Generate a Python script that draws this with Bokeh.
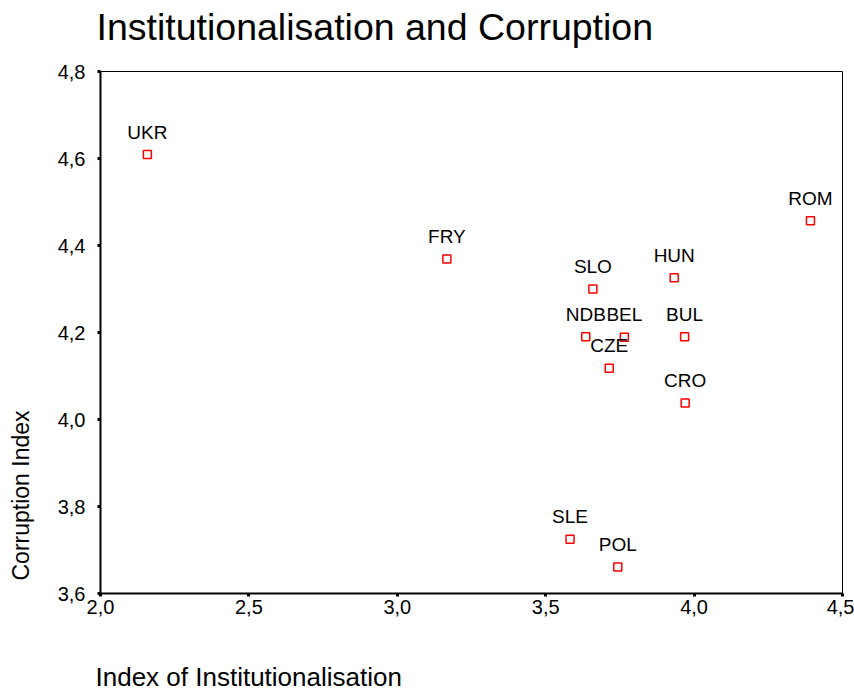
from bokeh.plotting import figure
from bokeh.models import ColumnDataSource, LabelSet, Title, Range1d, FixedTicker, CustomJSTickFormatter
from bokeh.core.properties import value
from bokeh.embed import file_html
from bokeh.resources import INLINE

countries = ["UKR", "FRY", "SLO", "HUN", "ROM", "NDB", "BEL", "BUL", "CZE", "CRO", "SLE", "POL"]
institutionalisation = [2.158, 3.167, 3.659, 3.933, 4.392, 3.635, 3.765, 3.968, 3.714, 3.970, 3.582, 3.743]
corruption = [4.609, 4.369, 4.300, 4.326, 4.457, 4.190, 4.189, 4.190, 4.118, 4.038, 3.725, 3.661]

x_ticks = [2.0, 2.5, 3.0, 3.5, 4.0, 4.5]
y_ticks = [3.6, 3.8, 4.0, 4.2, 4.4, 4.6, 4.8]

title_text = "Institutionalisation and Corruption"
x_label_text = "Index of Institutionalisation"
y_label_text = "Corruption Index"

FONT = "Liberation Sans"

p = figure(width=854, height=692, output_backend="svg", toolbar_location=None,
           x_range=Range1d(2.0, 4.5), y_range=Range1d(3.6, 4.8),
           min_border_left=100, min_border_right=12, min_border_top=71, min_border_bottom=99)

p.background_fill_color = "white"
p.border_fill_color = "white"
p.outline_line_color = "black"
p.outline_line_width = 1
p.xgrid.grid_line_color = None
p.ygrid.grid_line_color = None

fmt = CustomJSTickFormatter(code="return tick.toFixed(1).replace('.', ',');")

for ax, ticks in ((p.xaxis[0], x_ticks), (p.yaxis[0], y_ticks)):
    ax.ticker = FixedTicker(ticks=ticks)
    ax.formatter = fmt
    ax.axis_line_color = "black"
    ax.axis_line_width = 2
    ax.major_tick_in = 0
    ax.major_tick_out = 3
    ax.major_tick_line_width = 3
    ax.major_tick_line_color = "black"
    ax.minor_tick_line_color = None
    ax.major_label_text_font = FONT
    ax.major_label_text_font_size = "20px"
    ax.major_label_text_color = "black"

p.xaxis.major_label_standoff = 3
p.yaxis.major_label_standoff = 12


def spacer(size):
    return Title(text=" ", text_font=FONT, text_font_size=size, standoff=0)


# above: spacer nearest the frame, then the chart title
p.add_layout(spacer("17.5px"), "above")
p.add_layout(Title(text=title_text, align="left", offset=-4, standoff=4,
                   text_font=FONT, text_font_size="37.5px", text_font_style="normal",
                   text_color="black"), "above")

# below: axis, spacer, x label
p.add_layout(spacer("36px"), "below")
p.add_layout(Title(text=x_label_text, align="left", offset=-5, standoff=0,
                   text_font=FONT, text_font_size="26px", text_font_style="normal",
                   text_color="black"), "below")

# left: axis, spacer, y label
p.add_layout(spacer("16.5px"), "left")
p.add_layout(Title(text=y_label_text, align="left", offset=13, standoff=2,
                   text_font=FONT, text_font_size="23px", text_font_style="normal",
                   text_color="black"), "left")

src = ColumnDataSource(dict(x=institutionalisation, y=corruption, name=countries))

p.scatter("x", "y", source=src, marker="square", size=8, fill_color="white",
          line_color="#ff0000", line_width=1.5)

labels = LabelSet(x="x", y="y", text="name", source=src, y_offset=16,
                  text_align="center", text_baseline="alphabetic",
                  text_font=value(FONT), text_font_size=value("19px"), text_color="black")
p.add_layout(labels)

open("out.html", "w").write(file_html(p, INLINE))
